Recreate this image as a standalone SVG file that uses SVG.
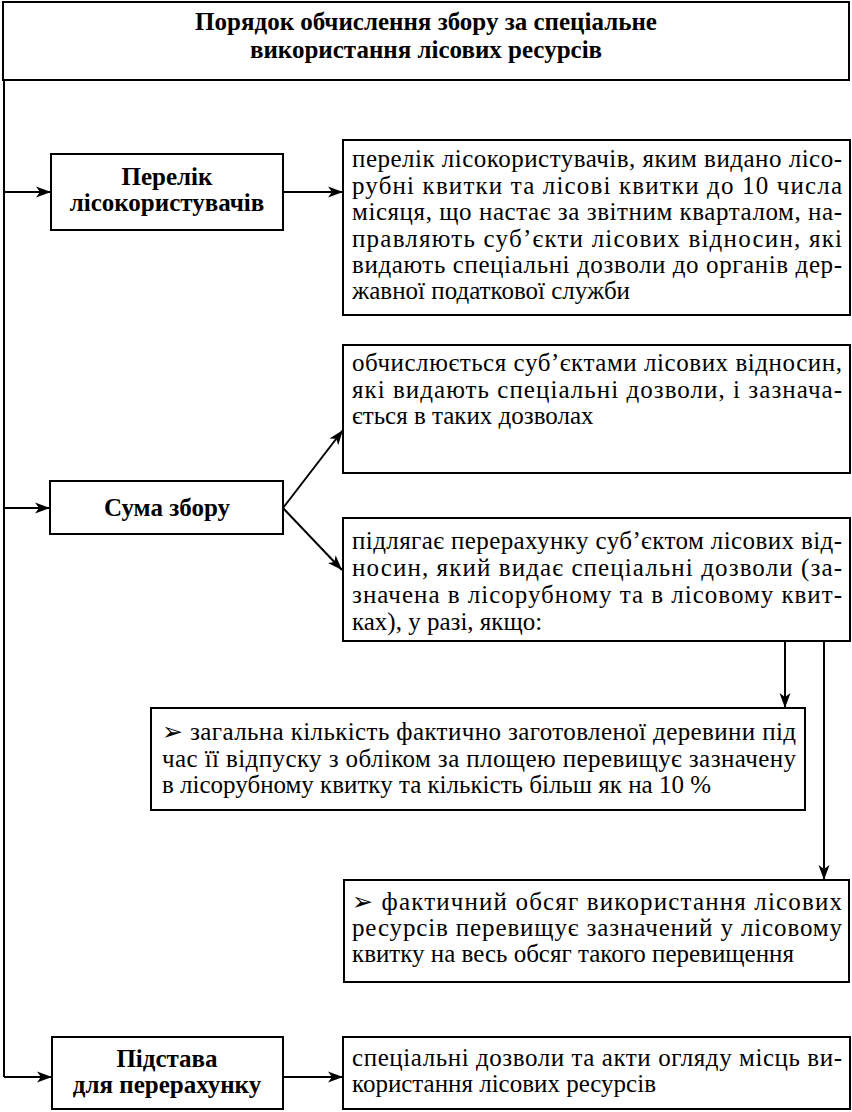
<svg xmlns="http://www.w3.org/2000/svg" width="852" height="1112" viewBox="0 0 852 1112">
  <defs>
    <style>
      .box { fill: #fff; stroke: #000; stroke-width: 2; }
      .link { fill: none; stroke: #000; stroke-width: 2; }
    </style>
    <marker id="arrow" markerUnits="userSpaceOnUse" markerWidth="16" markerHeight="12" refX="15" refY="6" orient="auto">
      <path d="M0,0.5 L15,6 L0,11.5 L4,6 Z" fill="#000"/>
    </marker>
  </defs>
  <rect width="852" height="1112" fill="#fff"/>

  <!-- connectors -->
  <g id="connectors">
    <line class="link" x1="4" y1="80" x2="4" y2="1077"/>
    <line class="link" x1="4" y1="192" x2="51" y2="192" marker-end="url(#arrow)"/>
    <line class="link" x1="4" y1="508" x2="50" y2="508" marker-end="url(#arrow)"/>
    <line class="link" x1="4" y1="1077" x2="52" y2="1077" marker-end="url(#arrow)"/>
    <line class="link" x1="283" y1="192" x2="343" y2="192" marker-end="url(#arrow)"/>
    <line class="link" x1="283" y1="508" x2="343" y2="430" marker-end="url(#arrow)"/>
    <line class="link" x1="283" y1="508" x2="342" y2="570" marker-end="url(#arrow)"/>
    <line class="link" x1="785" y1="641" x2="785" y2="708" marker-end="url(#arrow)"/>
    <line class="link" x1="824" y1="641" x2="824" y2="880" marker-end="url(#arrow)"/>
    <line class="link" x1="283" y1="1077" x2="343" y2="1077" marker-end="url(#arrow)"/>
  </g>

  <!-- title -->
  <g id="title">
    <rect class="box" x="3" y="2" width="846" height="78"/>
    <text x="426" y="30" font-family="'Liberation Serif', serif" font-size="25" font-weight="bold" text-anchor="middle">Порядок обчислення збору за спеціальне</text>
    <text x="426" y="58" font-family="'Liberation Serif', serif" font-size="25" font-weight="bold" text-anchor="middle">використання лісових ресурсів</text>
  </g>

  <!-- list of forest users -->
  <g id="node-perelik">
    <rect class="box" x="51" y="154" width="232" height="76"/>
    <text x="167" y="185" font-family="'Liberation Serif', serif" font-size="25" font-weight="bold" text-anchor="middle">Перелік</text>
    <text x="167" y="211" font-family="'Liberation Serif', serif" font-size="25" font-weight="bold" text-anchor="middle">лісокористувачів</text>
  </g>
  <g id="node-perelik-text">
    <rect class="box" x="343" y="140" width="507" height="175"/>
    <text x="352" y="167" font-family="'Liberation Serif', serif" font-size="25" textLength="490" lengthAdjust="spacing">перелік лісокористувачів, яким видано лісо-</text>
    <text x="352" y="193.5" font-family="'Liberation Serif', serif" font-size="25" textLength="490" lengthAdjust="spacing">рубні квитки та лісові квитки до 10 числа</text>
    <text x="352" y="220" font-family="'Liberation Serif', serif" font-size="25" textLength="490" lengthAdjust="spacing">місяця, що настає за звітним кварталом, на-</text>
    <text x="352" y="246.5" font-family="'Liberation Serif', serif" font-size="25" textLength="490" lengthAdjust="spacing">правляють суб’єкти лісових відносин, які</text>
    <text x="352" y="273" font-family="'Liberation Serif', serif" font-size="25" textLength="490" lengthAdjust="spacing">видають спеціальні дозволи до органів дер-</text>
    <text x="352" y="299" font-family="'Liberation Serif', serif" font-size="25">жавної податкової служби</text>
  </g>

  <!-- amount of levy -->
  <g id="node-suma">
    <rect class="box" x="50" y="481" width="233" height="53"/>
    <text x="167" y="516" font-family="'Liberation Serif', serif" font-size="25" font-weight="bold" text-anchor="middle">Сума збору</text>
  </g>
  <g id="node-suma-calc">
    <rect class="box" x="343" y="345" width="507" height="128"/>
    <text x="352" y="371" font-family="'Liberation Serif', serif" font-size="25" textLength="490" lengthAdjust="spacing">обчислюється суб’єктами лісових відносин,</text>
    <text x="352" y="397.5" font-family="'Liberation Serif', serif" font-size="25" textLength="490" lengthAdjust="spacing">які видають спеціальні дозволи, і зазнача-</text>
    <text x="352" y="424" font-family="'Liberation Serif', serif" font-size="25">ється в таких дозволах</text>
  </g>
  <g id="node-suma-recalc">
    <rect class="box" x="343" y="518" width="507" height="123"/>
    <text x="352" y="549" font-family="'Liberation Serif', serif" font-size="25" textLength="490" lengthAdjust="spacing">підлягає перерахунку суб’єктом лісових від-</text>
    <text x="352" y="576" font-family="'Liberation Serif', serif" font-size="25" textLength="490" lengthAdjust="spacing">носин, який видає спеціальні дозволи (за-</text>
    <text x="352" y="603" font-family="'Liberation Serif', serif" font-size="25" textLength="490" lengthAdjust="spacing">значена в лісорубному та в лісовому квит-</text>
    <text x="352" y="630" font-family="'Liberation Serif', serif" font-size="25">ках), у разі, якщо:</text>
  </g>

  <!-- conditions -->
  <g id="node-cond-wood">
    <rect class="box" x="151" y="708" width="654" height="102"/>
    <text x="162" y="740" font-family="'Liberation Serif', serif" font-size="25" textLength="634" lengthAdjust="spacing">➢ загальна кількість фактично заготовленої деревини під</text>
    <text x="162" y="767" font-family="'Liberation Serif', serif" font-size="25" textLength="634" lengthAdjust="spacing">час її відпуску з обліком за площею перевищує зазначену</text>
    <text x="162" y="793" font-family="'Liberation Serif', serif" font-size="25">в лісорубному квитку та кількість більш як на 10 %</text>
  </g>
  <g id="node-cond-volume">
    <rect class="box" x="344" y="880" width="505" height="102"/>
    <text x="352" y="910" font-family="'Liberation Serif', serif" font-size="25" textLength="490" lengthAdjust="spacing">➢ фактичний обсяг використання лісових</text>
    <text x="352" y="936" font-family="'Liberation Serif', serif" font-size="25" textLength="490" lengthAdjust="spacing">ресурсів перевищує зазначений у лісовому</text>
    <text x="352" y="962" font-family="'Liberation Serif', serif" font-size="25">квитку на весь обсяг такого перевищення</text>
  </g>

  <!-- basis for recalculation -->
  <g id="node-pidstava">
    <rect class="box" x="52" y="1037" width="231" height="72"/>
    <text x="167" y="1067" font-family="'Liberation Serif', serif" font-size="25" font-weight="bold" text-anchor="middle">Підстава</text>
    <text x="167" y="1093" font-family="'Liberation Serif', serif" font-size="25" font-weight="bold" text-anchor="middle">для перерахунку</text>
  </g>
  <g id="node-pidstava-text">
    <rect class="box" x="343" y="1037" width="507" height="72"/>
    <text x="352" y="1066" font-family="'Liberation Serif', serif" font-size="25" textLength="490" lengthAdjust="spacing">спеціальні дозволи та акти огляду місць ви-</text>
    <text x="352" y="1092" font-family="'Liberation Serif', serif" font-size="25">користання лісових ресурсів</text>
  </g>
</svg>
